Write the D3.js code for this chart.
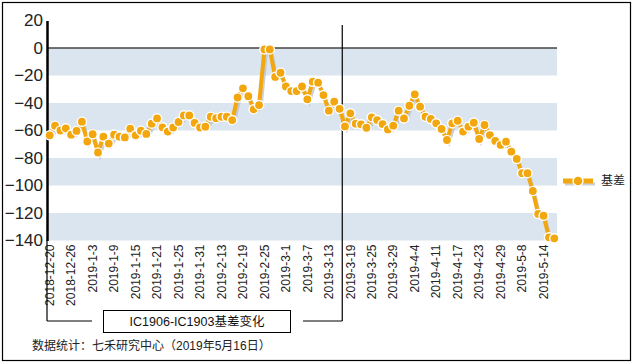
<!DOCTYPE html>
<html><head><meta charset="utf-8">
<script src="https://cdn.jsdelivr.net/npm/d3@7"></script>
<style>
html,body{margin:0;padding:0;background:#fff;}
svg{display:block;}
</style></head>
<body>
<svg id="chart" width="633" height="364"></svg>
<script>
// ---------- data ----------
const categories = [
"2018-12-20","2018-12-21","2018-12-24","2018-12-25","2018-12-26","2018-12-27","2018-12-28",
"2019-1-2","2019-1-3","2019-1-4","2019-1-7","2019-1-8","2019-1-9","2019-1-10","2019-1-11","2019-1-14","2019-1-15","2019-1-16","2019-1-17","2019-1-18","2019-1-21","2019-1-22","2019-1-23","2019-1-24","2019-1-25","2019-1-28","2019-1-29","2019-1-30","2019-1-31",
"2019-2-1","2019-2-11","2019-2-12","2019-2-13","2019-2-14","2019-2-15","2019-2-18","2019-2-19","2019-2-20","2019-2-21","2019-2-22","2019-2-25","2019-2-26","2019-2-27","2019-2-28",
"2019-3-1","2019-3-4","2019-3-5","2019-3-6","2019-3-7","2019-3-8","2019-3-11","2019-3-12","2019-3-13","2019-3-14","2019-3-15","2019-3-18","2019-3-19","2019-3-20","2019-3-21","2019-3-22","2019-3-25","2019-3-26","2019-3-27","2019-3-28","2019-3-29",
"2019-4-1","2019-4-2","2019-4-3","2019-4-4","2019-4-8","2019-4-9","2019-4-10","2019-4-11","2019-4-12","2019-4-15","2019-4-16","2019-4-17","2019-4-18","2019-4-19","2019-4-22","2019-4-23","2019-4-24","2019-4-25","2019-4-26","2019-4-29","2019-4-30",
"2019-5-6","2019-5-7","2019-5-8","2019-5-9","2019-5-10","2019-5-13","2019-5-14","2019-5-15","2019-5-16"
];
const basis = [
-63.5,-56.5,-60,-58.4,-63,-60.3,-53.6,-68,-62.7,-76,
-64.5,-69.5,-63,-64.5,-65,-58.7,-63.5,-60.2,-62.5,-55,
-51.2,-57.7,-60.8,-57.8,-53.8,-49,-49,-54.5,-57.8,-57.2,
-50,-51,-50,-50,-52.4,-36,-29.3,-35,-44.6,-41.5,
-1,-1,-21,-18,-28,-31.3,-31.3,-28,-37.3,-24.5,
-25.2,-34.2,-45.6,-39,-44.2,-57,-47.5,-55,-55.5,-58,
-50.4,-52.4,-55.3,-59.2,-56.5,-45.6,-51.2,-42,-33.7,-42.7,
-50,-51.6,-54.8,-58.9,-66.9,-54.8,-52.9,-60.8,-57.2,-54.3,
-66.2,-56,-63.3,-67.6,-70.5,-68.1,-75.4,-80.7,-91,-91,
-104,-120.7,-122,-137.7,-138.4
];
const tickLabels = ["2018-12-20","2018-12-26","2019-1-3","2019-1-9","2019-1-15","2019-1-21","2019-1-25","2019-1-31","2019-2-13","2019-2-19","2019-2-25","2019-3-1","2019-3-7","2019-3-13","2019-3-19","2019-3-25","2019-3-29","2019-4-4","2019-4-11","2019-4-17","2019-4-23","2019-4-29","2019-5-8","2019-5-14"];
const yTicks = [20,0,-20,-40,-60,-80,-100,-120,-140];
const seriesName = "基差";
const chartTitle = "IC1906-IC1903基差变化";
const sourceNote = "数据统计：七禾研究中心（2019年5月16日）";
const splitAfter = "2019-3-15"; // IC1903 expiry
const splitBefore = "2019-3-18";

// ---------- layout ----------
const svg = d3.select("#chart");
const L = 47, R = 557, T = 20.5, B = 240.5;
const orange = "#f2a70f";
const latin = "'Liberation Sans', Arial, sans-serif";
const cjk = "'Liberation Sans', 'Noto Sans CJK SC', sans-serif";

const x = d3.scaleBand().domain(categories).range([L, R]).padding(0);
const y = d3.scaleLinear().domain([-140, 20]).range([B, T]);
const cx = d => x(d) + x.bandwidth() / 2;

// outer border
svg.append("rect").attr("x", 2.5).attr("y", 2.5).attr("width", 628).attr("height", 358)
  .attr("fill", "none").attr("stroke", "#000").attr("stroke-width", 1.2);

// bands
const bandPairs = [[0,-20],[-40,-60],[-80,-100],[-120,-140]];
svg.append("g").selectAll("rect").data(bandPairs).join("rect")
  .attr("x", L).attr("width", R - L)
  .attr("y", d => y(d[0])).attr("height", d => y(d[1]) - y(d[0]))
  .attr("fill", "#dbe5f0");

// zero line
svg.append("line").attr("x1", L).attr("x2", R).attr("y1", y(0)).attr("y2", y(0))
  .attr("stroke", "#444").attr("stroke-width", 1.5);

// y axis
const yAxis = d3.axisLeft(y).tickValues(yTicks).tickSize(0).tickPadding(4).tickFormat(d3.format("d"));
const gy = svg.append("g").attr("transform", `translate(${L},0)`).call(yAxis);
gy.select(".domain").attr("stroke", "#000").attr("stroke-width", 2.5);
gy.selectAll("text").attr("font-family", latin).attr("font-size", 17).attr("fill", "#222");

// x axis
const xAxis = d3.axisBottom(x).tickValues(tickLabels).tickSize(0).tickPadding(0);
const gx = svg.append("g").attr("transform", `translate(0,${B})`).call(xAxis);
gx.select(".domain").remove();
gx.selectAll("text")
  .attr("font-family", latin).attr("font-size", 12).attr("fill", "#222")
  .attr("text-anchor", "end")
  .attr("transform", "rotate(-90)")
  .attr("x", -4).attr("y", 0).attr("dy", "0.35em");

// split line and bracket
const splitX = (cx(splitAfter) + cx(splitBefore)) / 2;
const brY = 321;
svg.append("line").attr("x1", splitX).attr("x2", splitX).attr("y1", 25).attr("y2", brY)
  .attr("stroke", "#000").attr("stroke-width", 1.2);
svg.append("line").attr("x1", L).attr("x2", L).attr("y1", B).attr("y2", brY)
  .attr("stroke", "#000").attr("stroke-width", 1.2);
svg.append("line").attr("x1", L).attr("x2", 92).attr("y1", brY).attr("y2", brY)
  .attr("stroke", "#000").attr("stroke-width", 1.2);
svg.append("line").attr("x1", 303).attr("x2", splitX).attr("y1", brY).attr("y2", brY)
  .attr("stroke", "#000").attr("stroke-width", 1.2);
svg.append("rect").attr("x", 103.5).attr("y", 310.5).attr("width", 187).attr("height", 22)
  .attr("fill", "#fff").attr("stroke", "#000").attr("stroke-width", 1);
svg.append("text").attr("x", 197).attr("y", 322).attr("dy", "0.35em").attr("text-anchor", "middle")
  .attr("font-family", cjk).attr("font-size", 12.5).attr("fill", "#111").text(chartTitle);

// source note
svg.append("text").attr("x", 32).attr("y", 346).attr("dy", "0.35em")
  .attr("font-family", cjk).attr("font-size", 12).attr("fill", "#222").text(sourceNote);

// series
const pts = categories.map((c, i) => ({c, v: basis[i]}));
const line = d3.line().x(d => cx(d.c)).y(d => y(d.v));
svg.append("path").datum(pts).attr("d", line).attr("fill", "none")
  .attr("stroke", "#b8bec6").attr("stroke-width", 3).attr("opacity", 0.7)
  .attr("transform", "translate(2,3)");
svg.append("path").datum(pts).attr("d", line).attr("fill", "none")
  .attr("stroke", orange).attr("stroke-width", 4).attr("stroke-linejoin", "round");
svg.append("g").selectAll("circle").data(pts).join("circle")
  .attr("cx", d => cx(d.c)).attr("cy", d => y(d.v)).attr("r", 4.6)
  .attr("fill", orange).attr("stroke", "#fff").attr("stroke-width", 1.4);

// legend
const lg = svg.append("g").attr("transform", "translate(563,181)");
lg.append("line").attr("x1", 2).attr("x2", 32).attr("y1", 3).attr("y2", 3)
  .attr("stroke", "#b8bec6").attr("stroke-width", 3).attr("opacity", 0.7);
lg.append("line").attr("x1", 0).attr("x2", 30).attr("y1", 0).attr("y2", 0)
  .attr("stroke", orange).attr("stroke-width", 5);
lg.append("circle").attr("cx", 15).attr("cy", 0).attr("r", 5)
  .attr("fill", orange).attr("stroke", "#fff").attr("stroke-width", 1.4);
lg.append("text").attr("x", 38).attr("y", 0).attr("dy", "0.35em")
  .attr("font-family", cjk).attr("font-size", 12).attr("fill", "#222").text(seriesName);
</script>
</body></html>
